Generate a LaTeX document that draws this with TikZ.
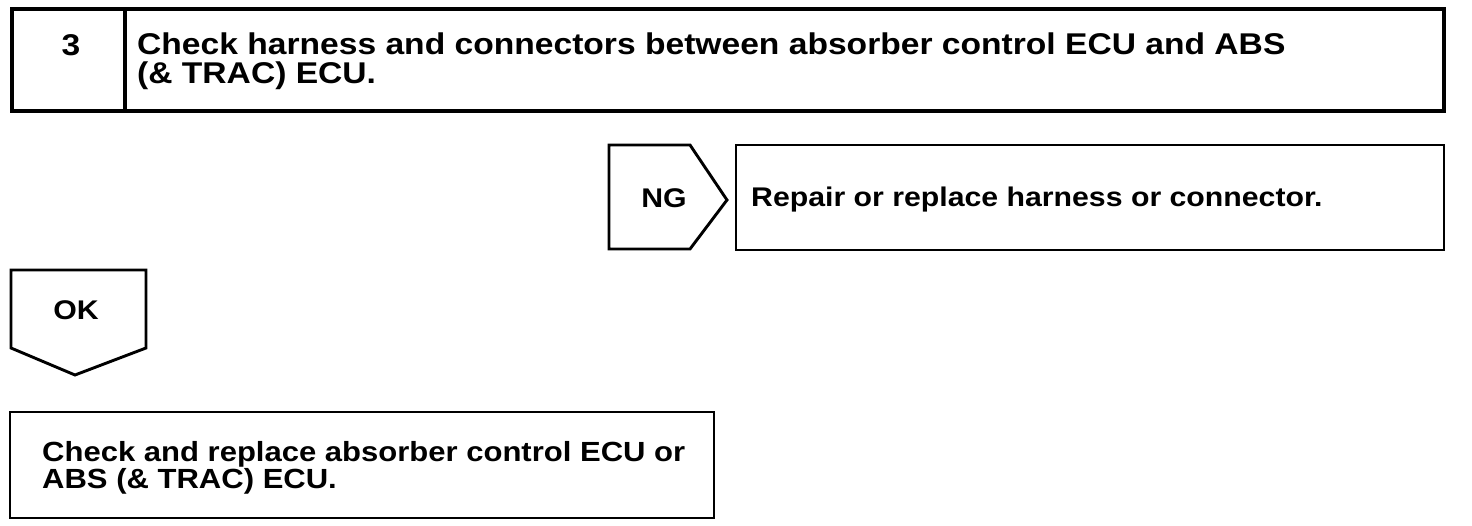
\documentclass[tikz,border=0pt]{standalone}
\usepackage{fontspec}
\setmainfont{Liberation Sans}[FakeStretch=1.12]
\begin{document}
\begin{tikzpicture}[x=1pt,y=-1pt,
  frame/.style={line width=2.9pt,line join=miter},
  txt/.style={inner sep=0pt,font=\fontsize{27}{29}\selectfont\bfseries},
  bigtxt/.style={txt,font=\fontsize{30}{32}\selectfont\bfseries},
  midtxt/.style={txt,font=\fontsize{27.7}{30}\selectfont\bfseries}]
\useasboundingbox (0,0) rectangle (1472,526);
% top box
\draw[frame,line width=3.2pt] (12,9) rectangle (1444,111);
\draw[frame,line width=3.2pt] (125,9) -- (125,111);
\node[bigtxt,anchor=base] (num) at (71,56) {3};
\node[bigtxt,anchor=base west] (t1) at (137,55) {Check harness and connectors between absorber control ECU and ABS};
\node[bigtxt,anchor=base west] (t2) at (137,84) {(\& TRAC) ECU.};
% NG
\draw[frame] (609,145) -- (690,145) -- (727,200) -- (690,249) -- (609,249) -- cycle;
\node[txt,anchor=base] (ng) at (664,208) {NG};
\draw[frame] (736,145) rectangle (1444,250);
\node[txt,anchor=base west] (rep) at (751,207) {Repair or replace harness or connector.};
% OK
\draw[frame] (11,270) -- (146,270) -- (146,348) -- (75,375) -- (11,348) -- cycle;
\node[txt,anchor=base] (ok) at (76,320) {OK};
% bottom box
\draw[frame] (10,412) rectangle (714,518);
\node[midtxt,anchor=base west] (b1) at (42,461) {Check and replace absorber control ECU or};
\node[midtxt,anchor=base west] (b2) at (42,488) {ABS (\& TRAC) ECU.};
\end{tikzpicture}
\end{document}
